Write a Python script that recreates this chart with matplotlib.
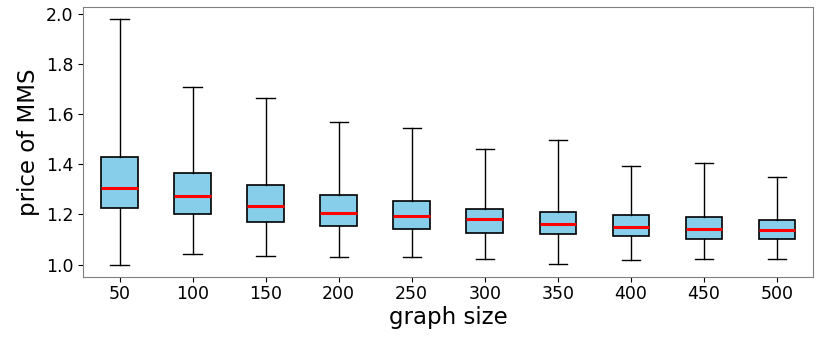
import matplotlib
matplotlib.use('Agg')
import matplotlib.pyplot as plt

# graph sizes and box statistics
sizes = [50, 100, 150, 200, 250, 300, 350, 400, 450, 500]
whislo = [1.000, 1.041, 1.034, 1.030, 1.031, 1.023, 1.003, 1.018, 1.023, 1.021]
q1 = [1.224, 1.203, 1.168, 1.155, 1.140, 1.127, 1.120, 1.113, 1.103, 1.100]
med = [1.307, 1.273, 1.235, 1.207, 1.192, 1.180, 1.160, 1.151, 1.143, 1.136]
q3 = [1.429, 1.364, 1.316, 1.277, 1.252, 1.223, 1.211, 1.198, 1.188, 1.178]
whishi = [1.979, 1.707, 1.663, 1.568, 1.546, 1.461, 1.498, 1.394, 1.405, 1.351]

stats = []
for i in range(len(sizes)):
    stats.append({'label': str(sizes[i]), 'whislo': whislo[i], 'q1': q1[i],
                  'med': med[i], 'q3': q3[i], 'whishi': whishi[i], 'fliers': []})

fig, ax = plt.subplots(figsize=(8.3, 3.46), dpi=100)
ax.bxp(stats, showfliers=False, patch_artist=True,
       boxprops=dict(facecolor='skyblue', edgecolor='black', linewidth=1.2),
       medianprops=dict(color='red', linewidth=2.2),
       whiskerprops=dict(color='black', linewidth=1),
       capprops=dict(color='black', linewidth=1))

ax.set_xlabel('graph size', fontsize=16.5, labelpad=2)
ax.set_ylabel('price of MMS', fontsize=16.5)
ax.tick_params(labelsize=12.5)
ax.tick_params(axis='x', pad=2.5)
for s in ax.spines.values():
    s.set_color('#808080')

plt.subplots_adjust(left=0.1, right=0.98, top=0.98, bottom=0.2)
plt.savefig('out.png')
